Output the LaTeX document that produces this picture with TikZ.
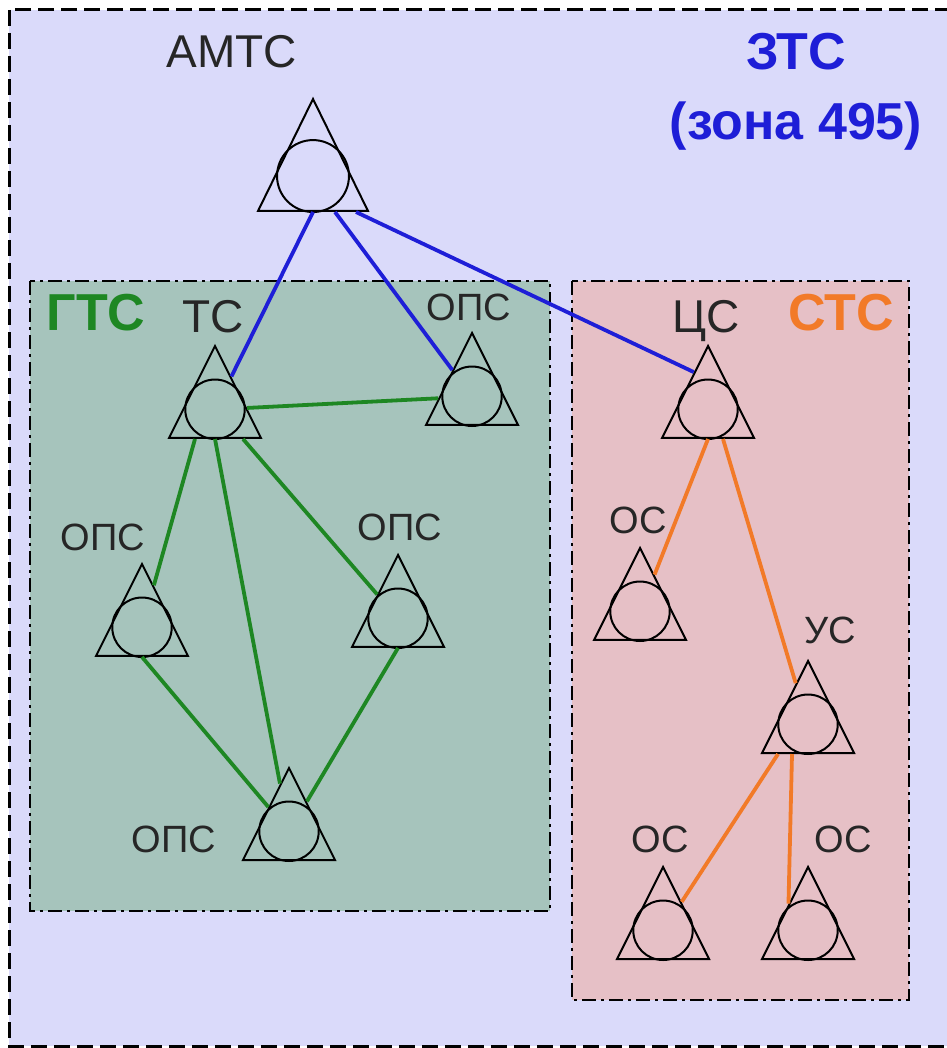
\documentclass[tikz,border=0pt]{standalone}
\usepackage{fontspec}
\setmainfont{Liberation Sans}
\usetikzlibrary{shapes.geometric,calc}
\definecolor{ztsfill}{RGB}{218,218,250}
\definecolor{gtsfill}{RGB}{166,196,188}
\definecolor{stsfill}{RGB}{230,192,198}
\definecolor{ztsblue}{RGB}{30,30,215}
\definecolor{gtsgreen}{RGB}{30,135,35}
\definecolor{stsorange}{RGB}{242,122,40}
\tikzset{
    station/.style={
        isosceles triangle,
        isosceles triangle stretches,
        shape border rotate=90,
        minimum width=92pt,
        minimum height=92pt,
        inner sep=0pt,
        draw=black,
        line width=2pt,
        anchor=south
    },
    station label/.style={font=\fontsize{38}{40}\selectfont, text=black!85, anchor=base},
    big label/.style={font=\fontsize{46}{48}\selectfont, text=black!85, anchor=base},
    zone title/.style={font=\fontsize{52}{70}\selectfont\bfseries, anchor=base, align=center},
    zone box/.style={line width=2.5pt, dash pattern=on 14pt off 5pt on 3pt off 5pt},
    link/.style={line width=3.8pt}
}

\begin{document}
\begin{tikzpicture}[x=1pt,y=-1pt]
\useasboundingbox (0,0) rectangle (946,1048);

% zones
\draw[fill=ztsfill, line width=3pt, dash pattern=on 16pt off 7pt] (9,10) rectangle (962,1046);
\draw[zone box, fill=gtsfill] (30,281) rectangle (550,911);
\draw[zone box, fill=stsfill] (572,281) rectangle (909,1000);

%stations
\node[station, minimum width=110pt, minimum height=112pt] (amts) at (313,212) {};
\node[station] (ts) at (215,439) {};
\node[station] (opsA) at (472,426) {};
\node[station] (opsL) at (142,657) {};
\node[station] (opsR) at (398,648) {};
\node[station] (opsB) at (289,861) {};
\node[station] (cs) at (708,439) {};
\node[station] (osL) at (640,641) {};
\node[station] (us) at (808,754) {};
\node[station] (osB1) at (663,960) {};
\node[station] (osB2) at (808,960) {};

\foreach \st in {amts,ts,opsA,opsL,opsR,opsB,cs,osL,us,osB1,osB2}
    \draw[line width=2pt] let \p1=(\st.north), \p2=(\st.south) in
        ($(\p2)!0.311!(\p1)$) circle [radius={0.311*(\y1-\y2)}];

% links
\draw[link, ztsblue] (amts.south) -- (ts);
\draw[link, ztsblue] ($(amts.south)+(22,0)$) -- (opsA);
\draw[link, ztsblue] ($(amts.south)+(43,0)$) -- ($(cs.apex)!0.3!(cs.left corner)$);

\draw[link, gtsgreen] (ts) -- (opsA);
\draw[link, gtsgreen] ($(ts.south)+(-20,0)$) -- (opsL);
\draw[link, gtsgreen] (ts.south) -- (opsB);
\draw[link, gtsgreen] ($(ts.south)+(28,0)$) -- (opsR);
\draw[link, gtsgreen] (opsL.south) -- (opsB);
\draw[link, gtsgreen] (opsR.south) -- (opsB);

\draw[link, stsorange] (cs.south) -- (osL);
\draw[link, stsorange] ($(cs.south)+(15,0)$) -- (us);
\draw[link, stsorange] ($(us.south)+(-30,0)$) -- (osB1);
\draw[link, stsorange] ($(us.south)+(-16,0)$) -- ($(osB2.apex)!0.41!(osB2.left corner)$);

% labels
\node[zone title, text=ztsblue] (zts-title) at (796,140) {ЗТС\\(зона 495)};
\node[zone title, text=gtsgreen] (gts-title) at (96,330) {ГТС};
\node[zone title, text=stsorange] (sts-title) at (841,330) {СТС};

\node[big label] (amts-label) at (232,68) {АМТС};
\node[big label] (ts-label) at (213,332) {ТС};
\node[big label] (cs-label) at (706,332) {ЦС};
\node[station label] (opsA-label) at (469,320) {ОПС};
\node[station label] (opsL-label) at (103,550) {ОПС};
\node[station label] (opsR-label) at (400,540) {ОПС};
\node[station label] (opsB-label) at (174,852) {ОПС};
\node[station label] (osL-label) at (638,533) {ОС};
\node[station label] (us-label) at (830,643) {УС};
\node[station label] (osB1-label) at (660,852) {ОС};
\node[station label] (osB2-label) at (843,852) {ОС};

\end{tikzpicture}
\end{document}
